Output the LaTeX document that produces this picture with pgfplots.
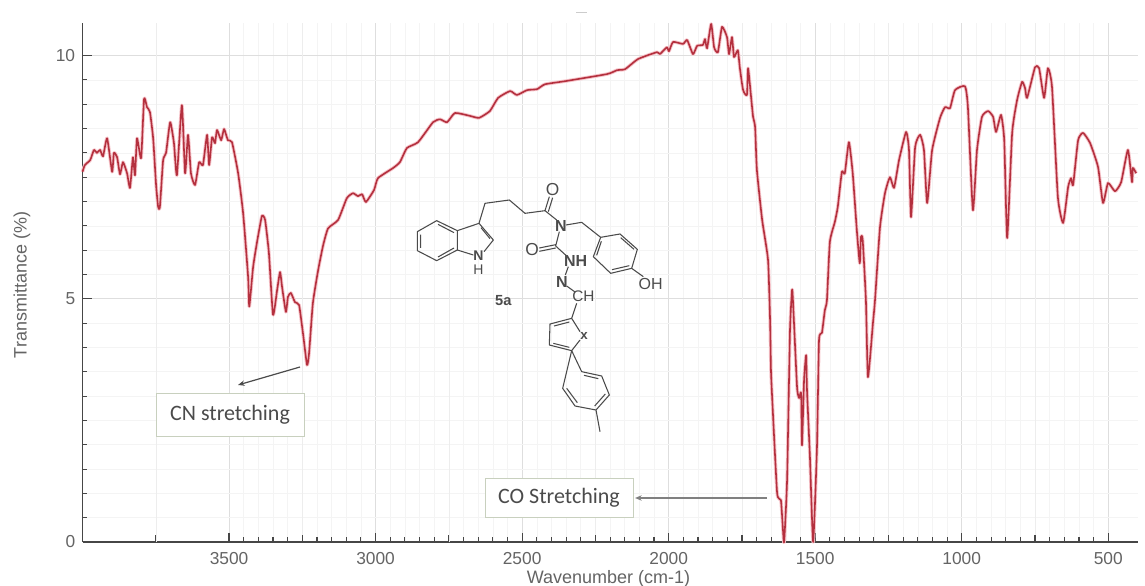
\documentclass[border=0pt]{standalone}
\usepackage{fontspec}
\setmainfont{Liberation Sans}
\newfontfamily\boxfont{Carlito}
\usepackage{pgfplots}
\pgfplotsset{compat=1.18}
\usetikzlibrary{arrows.meta}
\definecolor{spectrum}{RGB}{180,48,62}
\definecolor{halo}{RGB}{246,196,202}
\definecolor{labelgray}{RGB}{100,100,100}
\definecolor{spine}{RGB}{70,70,70}
\definecolor{chem}{RGB}{75,75,75}
\definecolor{boxedge}{RGB}{200,208,190}

\pgfplotstableread{
w T
4000 7.61
3992 7.75
3974 7.85
3961 8.06
3951 8.00
3940 8.06
3930 7.93
3916 8.30
3899 7.61
3893 8.00
3882 7.91
3872 7.56
3862 7.81
3848 7.58
3838 7.28
3828 7.91
3821 7.54
3814 8.30
3800 7.89
3790 9.11
3780 8.94
3770 8.84
3759 8.30
3749 7.34
3742 6.89
3736 6.89
3725 7.85
3715 8.00
3701 8.63
3688 8.20
3678 7.54
3661 8.98
3650 7.58
3640 8.37
3630 7.58
3616 7.34
3602 7.81
3589 7.75
3575 8.37
3568 7.75
3558 8.32
3548 8.20
3541 8.47
3527 8.26
3517 8.49
3504 8.26
3490 8.22
3469 7.58
3452 6.76
3435 5.45
3431 4.84
3418 5.65
3405 6.15
3388 6.70
3377 6.62
3364 5.94
3350 4.67
3336 5.18
3326 5.55
3319 5.24
3306 4.73
3299 5.04
3289 5.12
3275 4.93
3261 4.87
3248 4.30
3234 3.64
3227 3.88
3214 4.91
3196 5.59
3179 6.10
3162 6.45
3128 6.62
3098 7.07
3077 7.17
3060 7.11
3046 7.15
3033 6.99
3005 7.24
2992 7.48
2940 7.69
2917 7.81
2893 8.10
2855 8.22
2804 8.63
2780 8.69
2756 8.63
2729 8.82
2678 8.76
2647 8.72
2610 8.86
2582 9.13
2541 9.27
2518 9.19
2483 9.29
2449 9.31
2422 9.41
2347 9.48
2210 9.62
2176 9.70
2149 9.72
2104 9.93
2040 10.07
2030 10.03
2006 10.17
1999 10.09
1985 10.28
1951 10.24
1937 10.32
1917 10.03
1903 10.20
1883 10.22
1876 10.34
1869 10.15
1855 10.65
1845 10.17
1832 10.07
1818 10.59
1801 10.38
1794 10.03
1784 10.38
1777 9.97
1764 10.11
1757 9.74
1746 9.29
1733 9.19
1729 9.74
1719 9.16
1712 8.74
1705 8.53
1699 7.65
1681 6.62
1661 5.80
1654 4.56
1651 3.54
1647 2.98
1630 1.01
1617 0.86
1610 0.25
1606 0
1596 1.27
1586 4.36
1579 5.18
1576 4.97
1562 3.19
1555 2.96
1548 3.06
1545 1.99
1538 3.33
1531 3.84
1528 3.12
1518 1.75
1507 0
1494 1.95
1487 4.15
1477 4.30
1467 4.77
1460 4.97
1450 6.17
1433 6.58
1423 6.89
1409 7.61
1399 7.58
1385 8.22
1372 7.58
1358 6.41
1348 5.73
1344 6.27
1338 6.21
1327 4.97
1320 3.39
1303 4.50
1296 4.97
1279 6.47
1262 7.17
1245 7.50
1231 7.28
1214 7.85
1190 8.43
1180 8.06
1173 6.68
1159 8.12
1142 8.37
1129 8.06
1118 6.97
1101 8.06
1074 8.72
1057 8.94
1040 8.92
1023 9.29
989 9.37
979 8.94
962 6.82
948 8.06
931 8.74
910 8.86
893 8.74
883 8.43
866 8.78
855 8.26
845 6.25
828 8.41
811 9.09
794 9.46
784 9.33
777 9.13
750 9.76
736 9.74
719 9.13
706 9.74
692 9.35
672 7.09
654 6.56
637 7.30
627 7.48
620 7.34
603 8.26
586 8.41
562 8.20
535 7.71
518 6.97
501 7.38
477 7.21
456 7.40
433 8.06
419 7.40
416 7.69
405 7.58
}\ftirdata

\begin{document}
\begin{tikzpicture}
\path[use as bounding box] (0,0) rectangle (858.75pt,438.75pt);
\begin{axis}[
	at={(61.9pt,32.25pt)}, anchor=south west,
	scale only axis,
	width=791.3pt,
	height=389.25pt,
	x dir=reverse,
	xmin=400, xmax=4000,
	ymin=0, ymax=10.67,
	axis x line=bottom,
	axis y line=left,
	axis line style={-, spine, line width=0.9pt},
	tick align=inside,
	xtick={500,1000,...,3500},
	ytick={0,5,10},
	minor x tick num=9,
	minor y tick num=9,
	major tick length=7pt,
	minor tick length=3.5pt,
	every major tick/.append style={draw=spine, line width=0.9pt},
	every minor tick/.append style={draw=spine, line width=0.8pt},
	extra x ticks={750,1250,1750,2250,2750,3250,3750},
	extra x tick labels={},
	extra x tick style={major tick length=5pt, grid=major, major grid style={gray!14, line width=0.4pt}},
	grid=both,
	major grid style={gray!26, line width=0.6pt},
	minor grid style={gray!9, line width=0.4pt},
	/pgf/number format/assume math mode=true,
	x tick label style={/pgf/number format/set thousands separator={}, yshift=-4.5pt},
	y tick label style={xshift=-2pt},
	tick label style={font=\fontsize{13}{15}\selectfont, text=labelgray},
	every axis x label/.style={at={(axis description cs:0.4985,0)}, anchor=north, yshift=-17.5pt},
	every axis y label/.style={at={(axis description cs:0,0.495)}, rotate=90, anchor=center, yshift=45.5pt},
	xlabel={Wavenumber (cm-1)},
	ylabel={Transmittance (\%)},
	label style={font=\fontsize{13.5}{15}\selectfont, text=labelgray},
	clip=false,
]
\addplot[halo, line width=2.6pt, line join=round, smooth, tension=0.3] table[x=w, y=T] {\ftirdata};
\addplot[spectrum, line width=1.2pt, line join=round, smooth, tension=0.3] table[x=w, y=T] {\ftirdata};
\end{axis}

% annotations in reference pixels
\begin{scope}[shift={(0,438.75pt)}, x=0.75pt, y=-0.75pt]
\draw[chem, line width=0.9pt, -{Stealth[length=5pt,width=4pt]}] (300,367) -- (238,385);
\draw[gray, line width=1pt, -{Stealth[length=5pt,width=4pt]}] (767,498) -- (635,498);
\node[draw=boxedge, fill=white, line width=0.7pt, minimum width=111pt, minimum height=32pt, inner sep=0pt,
	text=chem, font=\boxfont\fontsize{16.5}{18}\selectfont] at (230,415) {CN stretching};
\node[draw=boxedge, fill=white, line width=0.7pt, minimum width=111pt, minimum height=29pt, inner sep=0pt,
	text=chem, font=\boxfont\fontsize{16.5}{18}\selectfont] at (559,498) {CO Stretching};
\draw[gray!40, line width=0.6pt] (576,12) -- (587,12);
\end{scope}

% structure 5a, traced in 3x zoom coordinates
\begin{scope}[shift={(285pt,318.75pt)}, x=0.25pt, y=-0.25pt, chem, line width=0.8pt, line join=round,
	every node/.style={font=\fontsize{12}{13}\selectfont, text=chem, inner sep=0pt}]
\draw (112,215) -- (170,182) -- (232,212) -- (232,270) -- (170,302) -- (112,272) -- cycle;
\draw (122,224) -- (122,264) (174,193) -- (222,218) (174,291) -- (222,264);
\draw (232,212) -- (297,190) -- (340,240) -- (312,275) (232,270) -- (280,285);
\draw (303,203) -- (330,236);
\draw (297,190) -- (315,130) -- (388,120) -- (435,160) -- (495,152) -- (530,180);
\draw (495,152) -- (508,110) (505,155) -- (518,113);
\draw (558,195) -- (605,187) -- (662,232);
\draw (662,232) -- (720,222) -- (772,268) -- (755,325) -- (692,340) -- (640,290) -- cycle;
\draw (664,244) -- (650,286) (722,233) -- (762,268) (748,317) -- (696,329);
\draw (755,325) -- (790,350);
\draw (538,215) -- (527,258) (478,264) -- (527,254) (478,274) -- (527,264);
\draw (527,258) -- (560,288);
\draw (565,320) -- (556,345) (560,378) -- (585,396);
\draw (590,430) -- (575,475) -- (510,492) -- (508,555) -- (575,572) -- (600,540) (575,475) -- (600,515);
\draw (522,498) -- (568,486) (520,550) -- (568,562);
\draw (575,572) -- (605,635) -- (665,648) -- (688,705) -- (648,750) -- (585,738) -- (548,685) -- cycle;
\draw (612,646) -- (655,656) (676,702) -- (644,738) (592,728) -- (560,685);
\draw (648,750) -- (660,815);
\node at (518,88) {\fontsize{13}{14}\selectfont O};
\node at (543,197) {\bfseries N};
\node at (295,287) {\fontsize{10.5}{10.5}\selectfont\bfseries N};
\node at (295,330) {\fontsize{10.5}{10.5}\selectfont H};
\node at (456,270) {\fontsize{13}{14}\selectfont O};
\node at (587,303) {\bfseries NH};
\node at (546,365) {\bfseries N};
\node at (610,410) {\fontsize{11.5}{13}\selectfont CH};
\node at (612,527) {\fontsize{10}{11}\selectfont\bfseries x};
\node at (812,372) {OH};
\node at (370,422) {\fontsize{11}{12}\selectfont\bfseries 5a};
\end{scope}
\end{tikzpicture}
\end{document}
